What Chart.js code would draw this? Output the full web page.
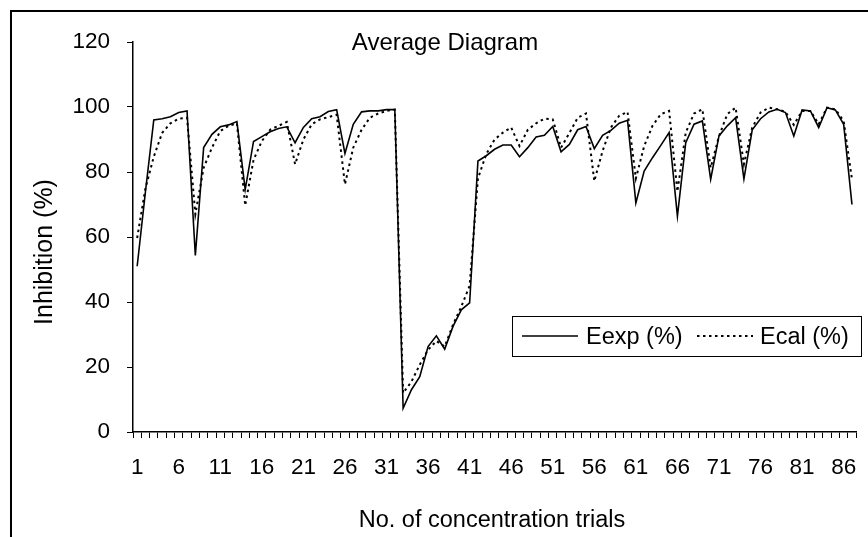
<!DOCTYPE html>
<html>
<head>
<meta charset="utf-8">
<script src="https://cdn.jsdelivr.net/npm/chart.js@4/dist/chart.umd.min.js"></script>
<style>
  html, body { margin: 0; padding: 0; background: #fff; }
  #wrap { position: relative; width: 868px; height: 537px; overflow: hidden; }
  #frame { position: absolute; left: 10px; top: 10px; width: 900px; height: 600px;
           border-left: 2px solid #000; border-top: 2px solid #000; }
  canvas { position: absolute; left: 0; top: 0; }
</style>
</head>
<body>
<div id="wrap">
  <div id="frame"></div>
  <canvas id="chart" width="868" height="537"></canvas>
</div>
<script>
const labels = [];
for (let i = 1; i <= 87; i++) labels.push(String(i));

const yTicks = [0, 20, 40, 60, 80, 100, 120];

const seriesNames = ['Eexp (%)', 'Ecal (%)'];

let datas_exp = [
    51, 74, 96, 96.4, 97, 98.3, 98.8, 54.3, 87.5, 91.6,
    93.9, 94.5, 95.5, 74.6, 89.4, 90.9, 92.4, 93.4, 93.9, 89,
    93.7, 96.4, 97, 98.6, 99.2, 85.7, 94.7, 98.5, 98.8, 98.8,
    99.2, 99.2, 7.3, 13, 17, 26.3, 29.6, 25.5, 32.5, 37.6,
    39.7, 83.4, 85, 87, 88.3, 88.3, 84.7, 87.5, 90.8, 91.3,
    94, 86.2, 88.5, 93, 94, 87.2, 91.3, 92.8, 95, 95.9,
    70.5, 80.3, 84.4, 88.2, 92.1, 66.4, 89, 94.7, 95.7, 77.7,
    91.1, 94.2, 96.7, 77.9, 93, 96.4, 98.5, 99.3, 98.3, 91.1,
    99.1, 98.8, 93.7, 99.8, 99.1, 94.7, 70,
];

let datas_cal = [
    59.7, 75, 84.7, 92, 95, 96.4, 96.7, 67, 81.3, 87.5,
    92.6, 94.2, 95, 69.7, 83.7, 89.5, 93, 94.2, 95.4, 82.4,
    90, 94.7, 96.2, 96.9, 97.6, 76.2, 87.5, 93, 96.7, 98,
    98.8, 99.2, 12, 15.5, 20.7, 25.3, 28, 26.3, 33, 38.6,
    45, 78, 85.5, 90, 92.1, 93.7, 88, 93, 95, 96.4,
    96.2, 87.5, 92, 96.7, 98, 77.2, 86.5, 93.7, 97.3, 98.5,
    78, 88, 94.2, 97.8, 98.8, 74, 92.1, 98, 99.3, 81.3,
    91, 97.8, 99.8, 82.4, 93.7, 98.3, 99.8, 99.3, 98.5, 94.5,
    98.8, 98.8, 94.7, 99.8, 99.3, 95.7, 77.7,
];

const FONT = '"Liberation Sans", Arial, sans-serif';

// titles and the legend box are drawn by hand, like the Excel original
const decorations = {
    id: 'decorations',
    afterDraw(chart) {
        const c = chart.ctx;
        c.save();
        c.fillStyle = '#000';
        c.textBaseline = 'alphabetic';

        c.font = '24px ' + FONT;
        c.textAlign = 'center';
        c.fillText('Average Diagram', 445, 50);

        c.font = '23.5px ' + FONT;
        c.fillText('No. of concentration trials', 492, 527);

        c.save();
        c.translate(52, 252);
        c.rotate(-Math.PI / 2);
        c.font = '25px ' + FONT;
        c.fillText('Inhibition (%)', 0, 0);
        c.restore();

        // legend
        c.strokeStyle = '#000';
        c.lineWidth = 1;
        c.strokeRect(512.5, 316.5, 349, 40);
        c.font = '23.5px ' + FONT;
        c.textAlign = 'left';
        const items = [
            { x1: 522, x2: 578, tx: 586 },
            { x1: 697, x2: 753, tx: 760 },
        ];
        chart.data.datasets.forEach((ds, i) => {
            const it = items[i];
            c.beginPath();
            c.lineWidth = ds.borderWidth;
            c.setLineDash(ds.borderDash || []);
            c.moveTo(it.x1, 336);
            c.lineTo(it.x2, 336);
            c.stroke();
            c.setLineDash([]);
            c.fillText(ds.label, it.tx, 344);
        });
        c.restore();
    }
};

const ctx = document.getElementById('chart').getContext('2d');
const chart = new Chart(ctx, {
    type: 'line',
    data: {
        labels: labels,
        datasets: [{
            label: seriesNames[0],
            data: datas_exp,
            borderColor: '#000',
            borderWidth: 1.6,
            pointRadius: 0,
            tension: 0,
            fill: false,
        }, {
            label: seriesNames[1],
            data: datas_cal,
            borderColor: '#000',
            borderWidth: 2,
            borderDash: [2.5, 3.5],
            pointRadius: 0,
            tension: 0,
            fill: false,
        }]
    },
    options: {
        responsive: false,
        animation: false,
        layout: { padding: { left: 0, right: 5, top: 42, bottom: 0 } },
        plugins: {
            legend: { display: false },
            title: { display: false },
            tooltip: { enabled: false },
        },
        scales: {
            x: {
                type: 'category',
                offset: true,
                grid: {
                    offset: true,
                    drawOnChartArea: false,
                    drawTicks: true,
                    tickLength: 6,
                    color: '#000',
                    lineWidth: 1,
                },
                border: { display: true, color: '#000', width: 1.5 },
                ticks: {
                    autoSkip: false,
                    maxRotation: 0,
                    minRotation: 0,
                    padding: 16,
                    color: '#000',
                    font: { family: FONT, size: 22.5 },
                    callback: function (val, i) {
                        return i % 5 === 0 ? labels[i] : '';
                    },
                },
                afterFit: function (s) { s.height = 105; },
            },
            y: {
                min: 0,
                max: 120,
                afterBuildTicks: function (s) {
                    s.ticks = yTicks.map(v => ({ value: v }));
                },
                grid: {
                    drawOnChartArea: false,
                    drawTicks: true,
                    tickLength: 6,
                    color: '#000',
                    lineWidth: 1,
                },
                border: { display: true, color: '#000', width: 1.5 },
                ticks: {
                    padding: 17,
                    color: '#000',
                    font: { family: FONT, size: 22.5 },
                },
                afterFit: function (s) { s.width = 133; },
            },
        },
    },
    plugins: [decorations],
});
</script>
</body>
</html>
